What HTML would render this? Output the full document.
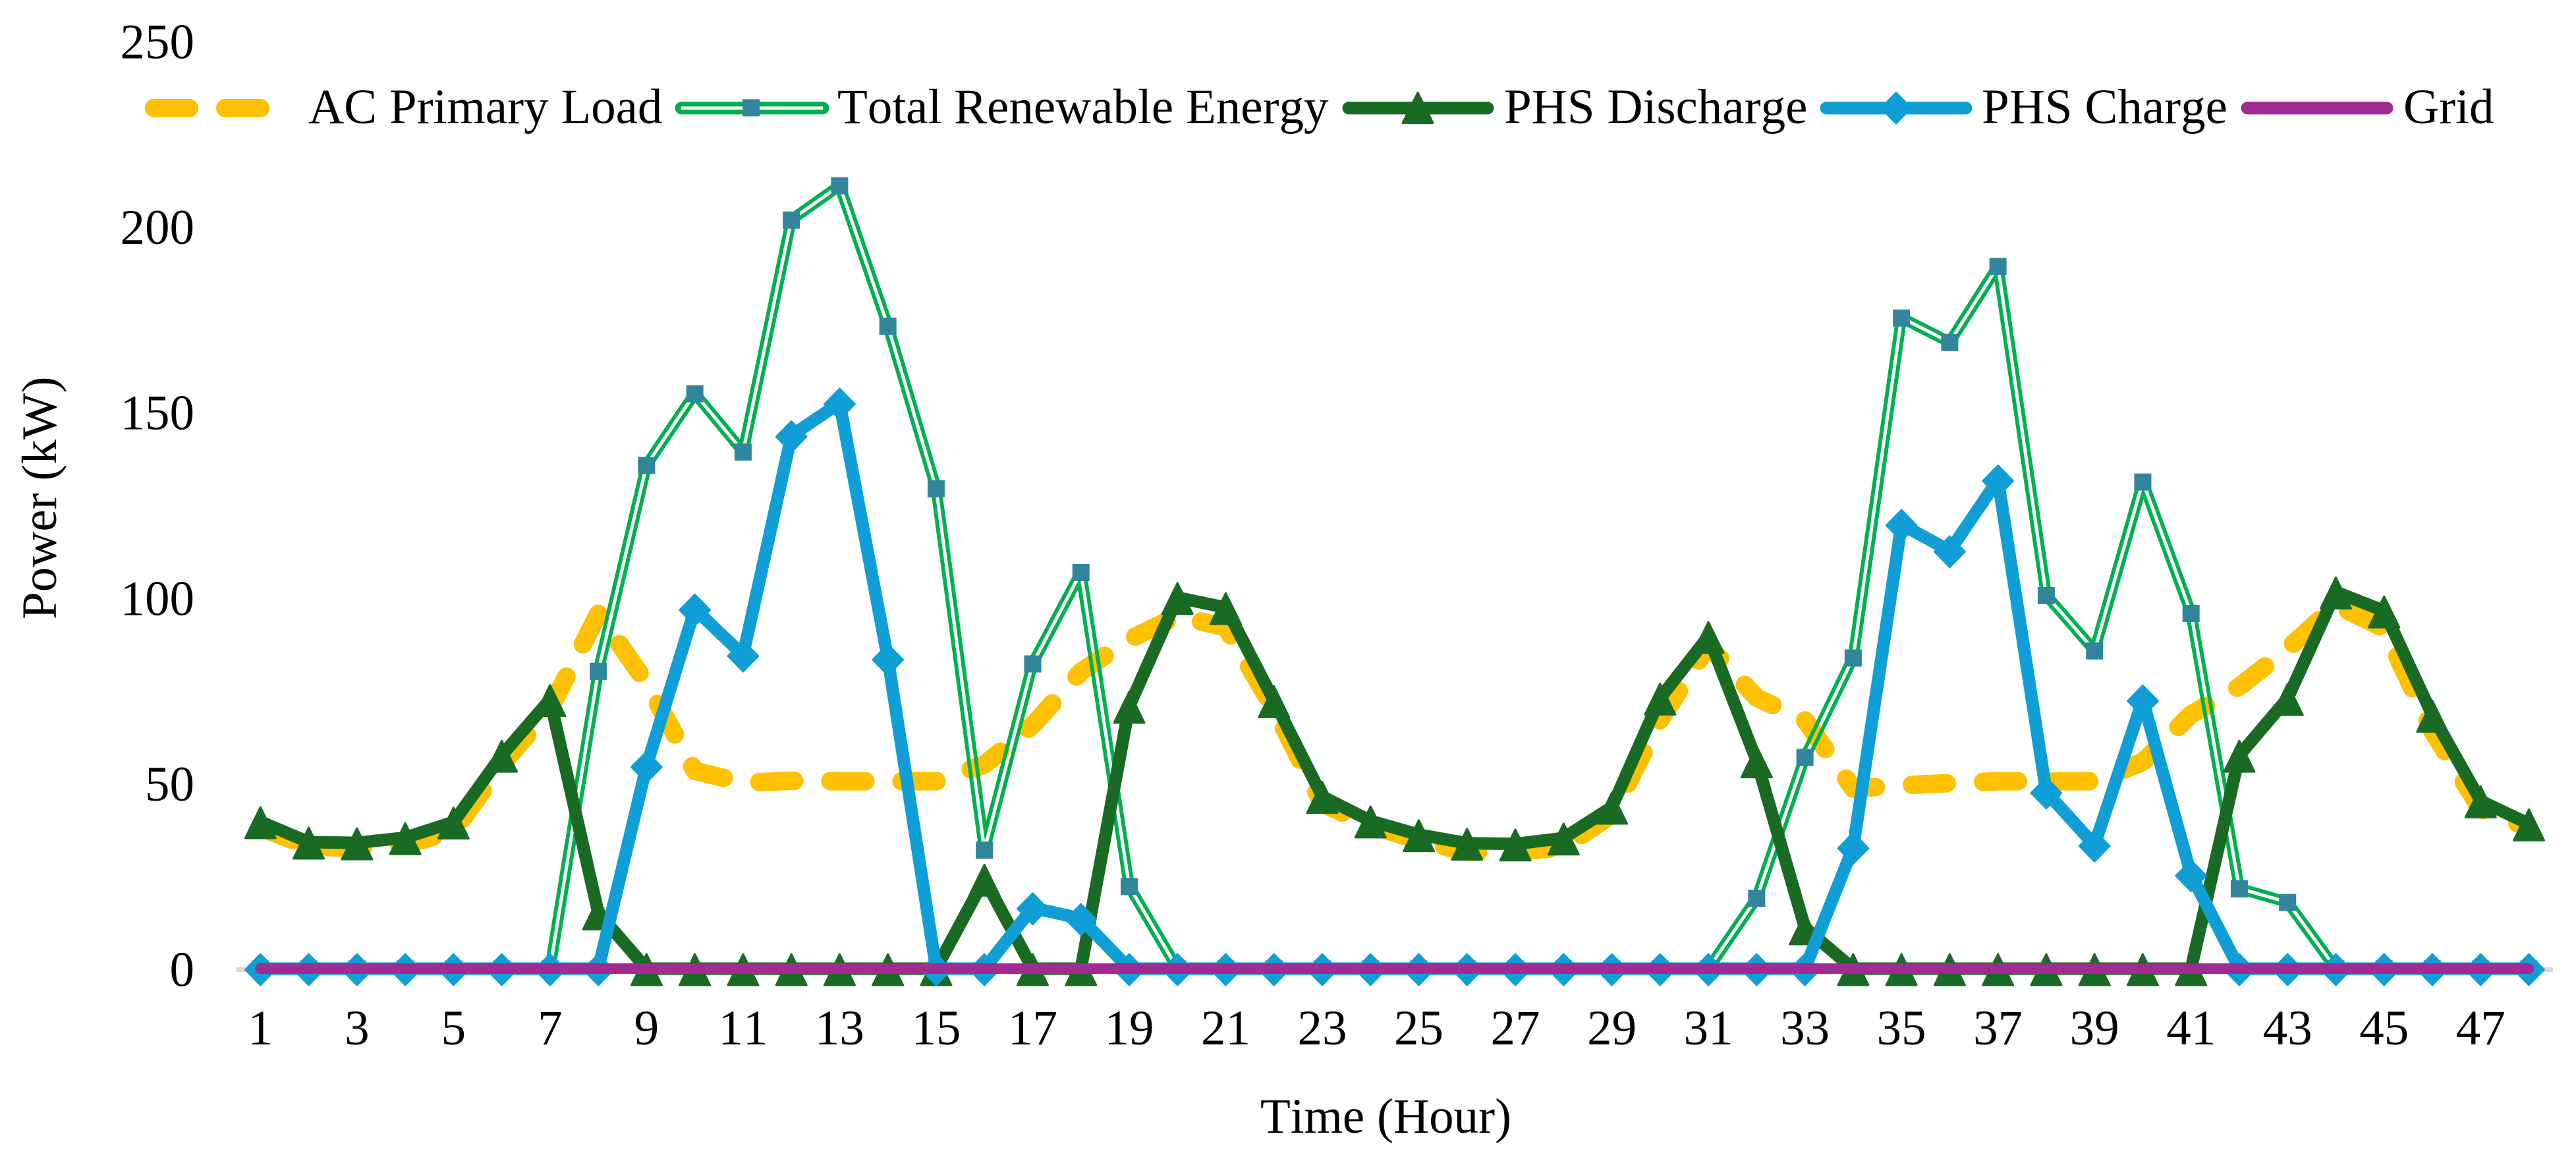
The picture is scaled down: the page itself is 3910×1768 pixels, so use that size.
<!DOCTYPE html>
<html lang="en">
<head>
<meta charset="utf-8">
<title>Power over time</title>
<style>
html,body{margin:0;padding:0;background:#fff;width:3910px;height:1768px;overflow:hidden}
svg{display:block;font-family:"Liberation Serif","Times New Roman",serif;font-size:75px;fill:#000;font-kerning:none}
</style>
</head>
<body>
<svg id="chart" xmlns="http://www.w3.org/2000/svg" width="3910" height="1768" viewBox="0 0 3910 1768">
  <rect x="0" y="0" width="3910" height="1768" fill="#fff"/>
  <g id="axes"></g>
  <g id="series"></g>
  <text x="2103.5" y="1719" text-anchor="middle">Time (Hour)</text>
  <text transform="translate(85,940) rotate(-90)">Power (kW)</text>
  <g>
    <g>
      <line x1="234" y1="164" x2="396" y2="164" stroke="#FFC000" stroke-width="28" stroke-linecap="round" stroke-dasharray="53 55"/>
      <text x="468" y="187">AC Primary Load</text>
    </g>
    <g>
      <line x1="1034" y1="164" x2="1249" y2="164" stroke="#00B050" stroke-width="19" stroke-linecap="round"/>
      <line x1="1034" y1="164" x2="1249" y2="164" stroke="#fff" stroke-width="5"/>
      <rect x="1127" y="150.500" width="26" height="26" fill="#31859C"/>
      <text x="1271" y="187">Total Renewable Energy</text>
    </g>
    <g>
      <line x1="2047" y1="164" x2="2258" y2="164" stroke="#196B24" stroke-width="19" stroke-linecap="round"/>
      <polygon points="2152,140.500 2175,186.500 2129,186.500" fill="#196B24" stroke="#196B24" stroke-width="3" stroke-linejoin="round"/>
      <text x="2283" y="187">PHS Discharge</text>
    </g>
    <g>
      <line x1="2772" y1="164" x2="2984" y2="164" stroke="#0F9ED5" stroke-width="19" stroke-linecap="round"/>
      <polygon points="2878,140 2901.500,164 2878,188 2854.500,164" fill="#0F9ED5" stroke="#0F9ED5" stroke-width="2" stroke-linejoin="round"/>
      <text x="3008" y="187">PHS Charge</text>
    </g>
    <g>
      <line x1="3411" y1="164" x2="3623" y2="164" stroke="#A02B93" stroke-width="19" stroke-linecap="round"/>
      <text x="3648" y="187">Grid</text>
    </g>
  </g>
</svg>
<script>
const hours = [1,2,3,4,5,6,7,8,9,10,11,12,13,14,15,16,17,18,19,20,21,22,23,24,25,26,27,28,29,30,31,32,33,34,35,36,37,38,39,40,41,42,43,44,45,46,47,48];
const xTickLabels = [1,3,5,7,9,11,13,15,17,19,21,23,25,27,29,31,33,35,37,39,41,43,45,47];
const yTickLabels = [0,50,100,150,200,250];
const acPrimaryLoad = [38,33,32.4,33.5,37,55,70,95.6,77,53.3,50.1,50.6,50.5,50.5,50.5,55,65.6,80,88.7,95,92,70,44.5,38.6,34.6,31.5,31.5,32.7,41.5,67,87,73,67,48.5,49.4,50,50.5,50.5,50.5,55.7,68.5,76,86.2,98,91.7,64,43,38];
const totalRenewable = [0,0,0,0,0,0,0,80.2,135.7,155,139.3,201.8,211,173.2,129.4,32,82.2,106.8,22.2,0,0,0,0,0,0,0,0,0,0,0,0,19,57,83.8,175.4,168.8,189.3,100.6,85.7,131.2,95.8,21.6,17.9,0,0,0,0,0];
const phsDischarge = [39.6,34.1,33.9,35.3,39.5,57.5,72.5,15,0,0,0,0,0,0,0,24.1,0,0,70.7,100,97.3,72.2,46.4,39.8,36.1,33.8,33.6,35.2,43.5,72.9,89.5,56,11,0,0,0,0,0,0,0,0,57.5,72.8,101.5,96.4,68.3,45.2,39];
const phsCharge = [0,0,0,0,0,0,0,0,54.6,96.9,84.5,143.6,152.4,83.5,0,0,16.4,13.5,0,0,0,0,0,0,0,0,0,0,0,0,0,0,0,32.7,119.7,112.6,131.7,47.6,33.3,72.4,25.3,0,0,0,0,0,0,0];
const gridPower = [0,0,0,0,0,0,0,0,0,0,0,0,0,0,0,0,0,0,0,0,0,0,0,0,0,0,0,0,0,0,0,0,0,0,0,0,0,0,0,0,0,0,0,0,0,0,0,0];

const SVGNS = 'http://www.w3.org/2000/svg';
const axesLayer = document.getElementById('axes');
const seriesLayer = document.getElementById('series');

function xScale(hour) { return 395.3 + (hour - 1) * 73.26; }
function yScale(value) { return 1471.5 - value * 5.632; }
function lineY(value) { return yScale(value) - 1.5; }

function make(tag, attrs, parent) {
  const el = document.createElementNS(SVGNS, tag);
  for (const key in attrs) { el.setAttribute(key, attrs[key]); }
  parent.appendChild(el);
  return el;
}
function pointsFor(values) {
  return values.map(function (v, i) { return xScale(hours[i]).toFixed(2) + ',' + lineY(v).toFixed(2); }).join(' ');
}

const xAxisLine = make('line', {x1: xScale(1) - 36.63, x2: xScale(48) + 36.63, y1: yScale(0), y2: yScale(0), stroke: '#D9D9D9', 'stroke-width': 7}, axesLayer);



yTickLabels.forEach(function (tick) {
  const label = make('text', {x: 295, y: yScale(tick) + 25, 'text-anchor': 'end'}, axesLayer);
  label.textContent = String(tick);
  
  
});
xTickLabels.forEach(function (tick) {
  const label = make('text', {x: xScale(tick), y: 1585, 'text-anchor': 'middle'}, axesLayer);
  label.textContent = String(tick);
  
  
});

/* AC primary load: dashed line without markers */
const loadLine = make('polyline', {points: pointsFor(acPrimaryLoad), fill: 'none', stroke: '#FFC000', 'stroke-width': 28, 'stroke-linecap': 'round', 'stroke-linejoin': 'round', 'stroke-dasharray': '53 55'}, seriesLayer);



/* Total renewable energy: compound line, the centre gap is cut out with a mask */
const maskEl = make('mask', {id: 'renewable-gap', maskUnits: 'userSpaceOnUse', x: 0, y: 0, width: 3910, height: 1768}, seriesLayer);


const maskOuter = make('polyline', {points: pointsFor(totalRenewable), fill: 'none', stroke: '#fff', 'stroke-width': 17, 'stroke-linejoin': 'round'}, maskEl);


const maskInner = make('polyline', {points: pointsFor(totalRenewable), fill: 'none', stroke: '#000', 'stroke-width': 5, 'stroke-linejoin': 'miter'}, maskEl);


const renewableLine = make('polyline', {points: pointsFor(totalRenewable), fill: 'none', stroke: '#00B050', 'stroke-width': 17, 'stroke-linejoin': 'round', mask: 'url(#renewable-gap)'}, seriesLayer);


totalRenewable.forEach(function (v, i) {
  const marker = make('rect', {x: xScale(hours[i]) - 13, y: yScale(v) - 13 - 1, width: 26, height: 26, fill: '#31859C'}, seriesLayer);
  
  
});

/* PHS discharge: thick line with triangles */
const dischargeLine = make('polyline', {points: pointsFor(phsDischarge), fill: 'none', stroke: '#196B24', 'stroke-width': 19, 'stroke-linejoin': 'round'}, seriesLayer);


phsDischarge.forEach(function (v, i) {
  const cx = xScale(hours[i]);
  const cy = yScale(v);
  const marker = make('polygon', {points: cx + ',' + (cy - 23.5) + ' ' + (cx + 23) + ',' + (cy + 23.5) + ' ' + (cx - 23) + ',' + (cy + 23.5), fill: '#196B24', stroke: '#196B24', 'stroke-width': 3, 'stroke-linejoin': 'round'}, seriesLayer);
  
  
});

/* PHS charge: thick line with diamonds */
const chargeLine = make('polyline', {points: pointsFor(phsCharge), fill: 'none', stroke: '#0F9ED5', 'stroke-width': 19, 'stroke-linejoin': 'round'}, seriesLayer);


phsCharge.forEach(function (v, i) {
  const cx = xScale(hours[i]);
  const cy = yScale(v);
  const marker = make('polygon', {points: cx + ',' + (cy - 24) + ' ' + (cx + 23.5) + ',' + cy + ' ' + cx + ',' + (cy + 24) + ' ' + (cx - 23.5) + ',' + cy, fill: '#0F9ED5', stroke: '#0F9ED5', 'stroke-width': 2, 'stroke-linejoin': 'round'}, seriesLayer);
  
  
});

/* Grid: plain line */
const gridLine = make('polyline', {points: pointsFor(gridPower), fill: 'none', stroke: '#A02B93', 'stroke-width': 16, 'stroke-linecap': 'round', 'stroke-linejoin': 'round'}, seriesLayer);


</script>
</body>
</html>
